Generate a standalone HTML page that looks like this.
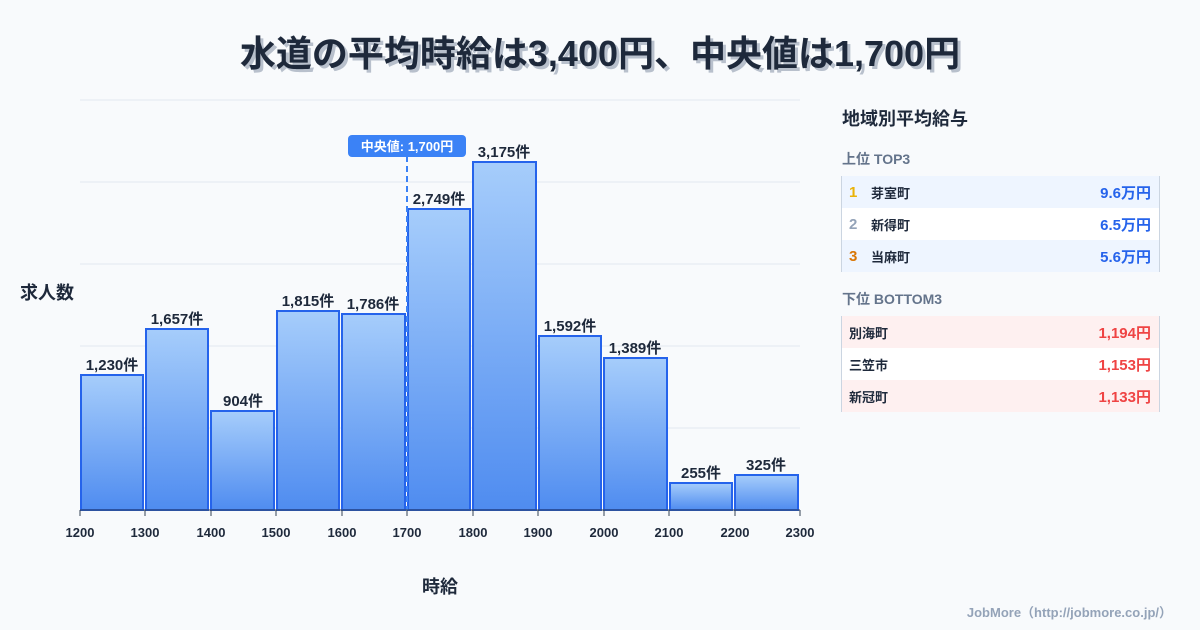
<!DOCTYPE html>
<html><head><meta charset="utf-8"><style>
body{margin:0;width:1200px;height:630px;background:#f8fafc;font-family:"Liberation Sans","Noto Sans CJK JP",sans-serif;position:relative;overflow:hidden;color:#1e293b}
.t{position:absolute;left:0;width:1200px;top:32px;text-align:center;font-size:36px;line-height:44px;font-weight:700;color:#1e293b;text-shadow:3px 3px 0 #b8c0cc}
.p{position:absolute;left:841px;width:319px}
.h{position:absolute;left:842px;font-weight:700}
.row{height:32px;display:flex;align-items:center;font-size:13px;font-weight:700;border-left:1px solid #cbd5e1;border-right:1px solid #cbd5e1;box-sizing:border-box}
.n{width:22px;padding-left:7px;font-size:15px}
.v{margin-left:auto;padding-right:8px;font-size:15px}
</style></head><body>
<div class="t">水道の平均時給は3,400円、中央値は1,700円</div>
<svg width="1200" height="630" style="position:absolute;left:0;top:0">
<defs><linearGradient id="g" x1="0" y1="0" x2="0" y2="1"><stop offset="0" stop-color="#a6cdfb"/><stop offset="1" stop-color="#4f8cf0"/></linearGradient></defs>
<g stroke="#e2e8f0" stroke-width="1">
<line x1="80" x2="800" y1="100" y2="100"/><line x1="80" x2="800" y1="182" y2="182"/><line x1="80" x2="800" y1="264" y2="264"/><line x1="80" x2="800" y1="346" y2="346"/><line x1="80" x2="800" y1="428" y2="428"/></g>
<g fill="url(#g)" stroke="#2563eb" stroke-width="2">
<rect x="81" y="375" width="62" height="135"/>
<rect x="146" y="329" width="62" height="181"/>
<rect x="211" y="411" width="63" height="99"/>
<rect x="277" y="311" width="62" height="199"/>
<rect x="342" y="314" width="63" height="196"/>
<rect x="408" y="209" width="62" height="301"/>
<rect x="473" y="162" width="63" height="348"/>
<rect x="539" y="336" width="62" height="174"/>
<rect x="604" y="358" width="63" height="152"/>
<rect x="670" y="483" width="62" height="27"/>
<rect x="735" y="475" width="63" height="35"/>
</g>
<line x1="407" x2="407" y1="156" y2="510" stroke="#3b82f6" stroke-width="2" stroke-dasharray="6,4"/>
<rect x="348" y="135" width="118" height="22" rx="4" fill="#3b82f6"/>
<text x="407" y="151" text-anchor="middle" font-size="13" font-weight="700" fill="#fff">中央値: 1,700円</text>
<g font-size="15" font-weight="700" fill="#1e293b" text-anchor="middle">
<text x="112" y="370">1,230件</text><text x="177" y="324">1,657件</text><text x="243" y="406">904件</text><text x="308" y="306">1,815件</text><text x="373" y="309">1,786件</text><text x="439" y="204">2,749件</text><text x="504" y="157">3,175件</text><text x="570" y="331">1,592件</text><text x="635" y="353">1,389件</text><text x="701" y="478">255件</text><text x="766" y="470">325件</text>
</g>
<line x1="80" x2="800" y1="510" y2="510" stroke="#334155"/>
<g stroke="#334155"><line x1="80" x2="80" y1="510" y2="516"/><line x1="145" x2="145" y1="510" y2="516"/><line x1="211" x2="211" y1="510" y2="516"/><line x1="276" x2="276" y1="510" y2="516"/><line x1="342" x2="342" y1="510" y2="516"/><line x1="407" x2="407" y1="510" y2="516"/><line x1="473" x2="473" y1="510" y2="516"/><line x1="538" x2="538" y1="510" y2="516"/><line x1="604" x2="604" y1="510" y2="516"/><line x1="669" x2="669" y1="510" y2="516"/><line x1="735" x2="735" y1="510" y2="516"/><line x1="800" x2="800" y1="510" y2="516"/></g>
<g font-size="13" font-weight="700" fill="#1e293b" text-anchor="middle">
<text x="80" y="537">1200</text><text x="145" y="537">1300</text><text x="211" y="537">1400</text><text x="276" y="537">1500</text><text x="342" y="537">1600</text><text x="407" y="537">1700</text><text x="473" y="537">1800</text><text x="538" y="537">1900</text><text x="604" y="537">2000</text><text x="669" y="537">2100</text><text x="735" y="537">2200</text><text x="800" y="537">2300</text>
</g>
<text x="440" y="593" text-anchor="middle" font-size="18" font-weight="700" fill="#1e293b">時給</text>
<text x="20" y="299" font-size="18" font-weight="700" fill="#1e293b">求人数</text>
<text x="1172" y="617" text-anchor="end" font-size="13" font-weight="700" fill="#94a3b8">JobMore（http://jobmore.co.jp/）</text>
</svg>
<div class="h" style="top:105px;font-size:18px">地域別平均給与</div>
<div class="h" style="top:149px;font-size:14px;color:#64748b">上位 TOP3</div>
<div class="p" style="top:176px">
<div class="row" style="background:#eef5ff"><span class="n" style="color:#eab308">1</span>芽室町<span class="v" style="color:#2563eb">9.6万円</span></div>
<div class="row" style="background:#fff"><span class="n" style="color:#94a3b8">2</span>新得町<span class="v" style="color:#2563eb">6.5万円</span></div>
<div class="row" style="background:#eef5ff"><span class="n" style="color:#d97706">3</span>当麻町<span class="v" style="color:#2563eb">5.6万円</span></div>
</div>
<div class="h" style="top:289px;font-size:14px;color:#64748b">下位 BOTTOM3</div>
<div class="p" style="top:316px">
<div class="row" style="background:#fef0f0;padding-left:7px">別海町<span class="v" style="color:#ef4444">1,194円</span></div>
<div class="row" style="background:#fff;padding-left:7px">三笠市<span class="v" style="color:#ef4444">1,153円</span></div>
<div class="row" style="background:#fef0f0;padding-left:7px">新冠町<span class="v" style="color:#ef4444">1,133円</span></div>
</div>
</body></html>
